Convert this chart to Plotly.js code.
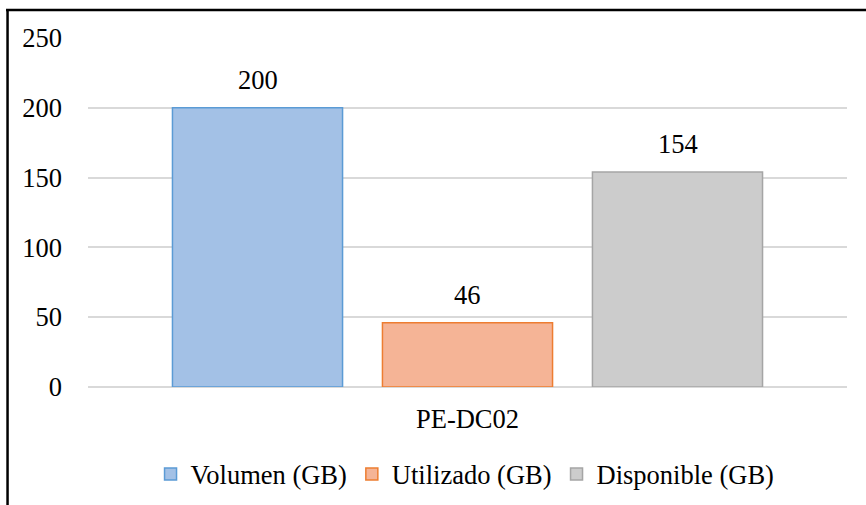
<!DOCTYPE html>
<html>
<head>
<meta charset="utf-8">
<script src="https://cdn.plot.ly/plotly-3.0.1.min.js"></script>
<style>html,body{margin:0;padding:0;background:#fff;}#chart{width:866px;height:505px;}</style>
</head>
<body>
<div id="chart"></div>
<script>
const categories = ["PE-DC02"];
const seriesNames = ["Volumen (GB)", "Utilizado (GB)", "Disponible (GB)"];
const volumen = [200];
const utilizado = [46];
const disponible = [154];
const yTicks = [0, 50, 100, 150, 200, 250];

const fills = ["#a3c1e6", "#f5b496", "#cccccc"];
const borders = ["#5b9bd5", "#ed7d31", "#a5a5a5"];
const values = [volumen, utilizado, disponible];
const font = "Liberation Serif, Times New Roman, serif";
const fs = 26.5;

const traces = values.map((v, i) => ({
  type: "bar",
  name: seriesNames[i],
  x: categories,
  y: v,
  marker: {color: fills[i], line: {color: borders[i], width: 1.5}},
  hoverinfo: "none"
}));

const shifts = [-210, 0, 210];
const annotations = [];
values.forEach((v, i) => {
  v.forEach((val, j) => {
    annotations.push({
      x: categories[j], y: val, xref: "x", yref: "y",
      text: String(val), showarrow: false,
      xshift: shifts[i], yshift: 28,
      font: {family: font, size: fs, color: "#000"}
    });
  });
});

const layout = {
  width: 866, height: 505,
  margin: {l: 88, r: 19, t: 38, b: 118},
  paper_bgcolor: "#fff", plot_bgcolor: "#fff",
  barmode: "group", bargap: 0.17, bargroupgap: 0.19,
  font: {family: font, size: fs, color: "#000"},
  xaxis: {automargin: false, showgrid: false, showline: false, ticks: "", ticklabelstandoff: 13, tickfont: {family: font, size: fs}},
  yaxis: {automargin: false, range: [0, 250], tickvals: yTicks, ticktext: yTicks.map(String),
          showgrid: true, gridcolor: "#d9d9d9", gridwidth: 2,
          zeroline: true, zerolinecolor: "#d9d9d9", zerolinewidth: 2,
          showline: false, ticks: "", ticklabelstandoff: 25, tickfont: {family: font, size: fs}},
  showlegend: true,
  legend: {orientation: "h", xref: "container", yref: "container", x: 0.537, xanchor: "center", y: 0.061, yanchor: "middle",
           font: {family: font, size: fs}, itemwidth: 30, traceorder: "normal"},
  annotations: annotations,
  shapes: [
    {type: "line", xref: "paper", yref: "paper", x0: -0.106, x1: -0.106, y0: 1.08, y1: -0.4, line: {color: "#000", width: 2.5}},
    {type: "line", xref: "paper", yref: "paper", x0: -0.108, x1: 1.05, y0: 1.08, y1: 1.08, line: {color: "#000", width: 2.5}}
  ]
};

Plotly.newPlot("chart", traces, layout, {staticPlot: true, displayModeBar: false});
</script>
</body>
</html>
